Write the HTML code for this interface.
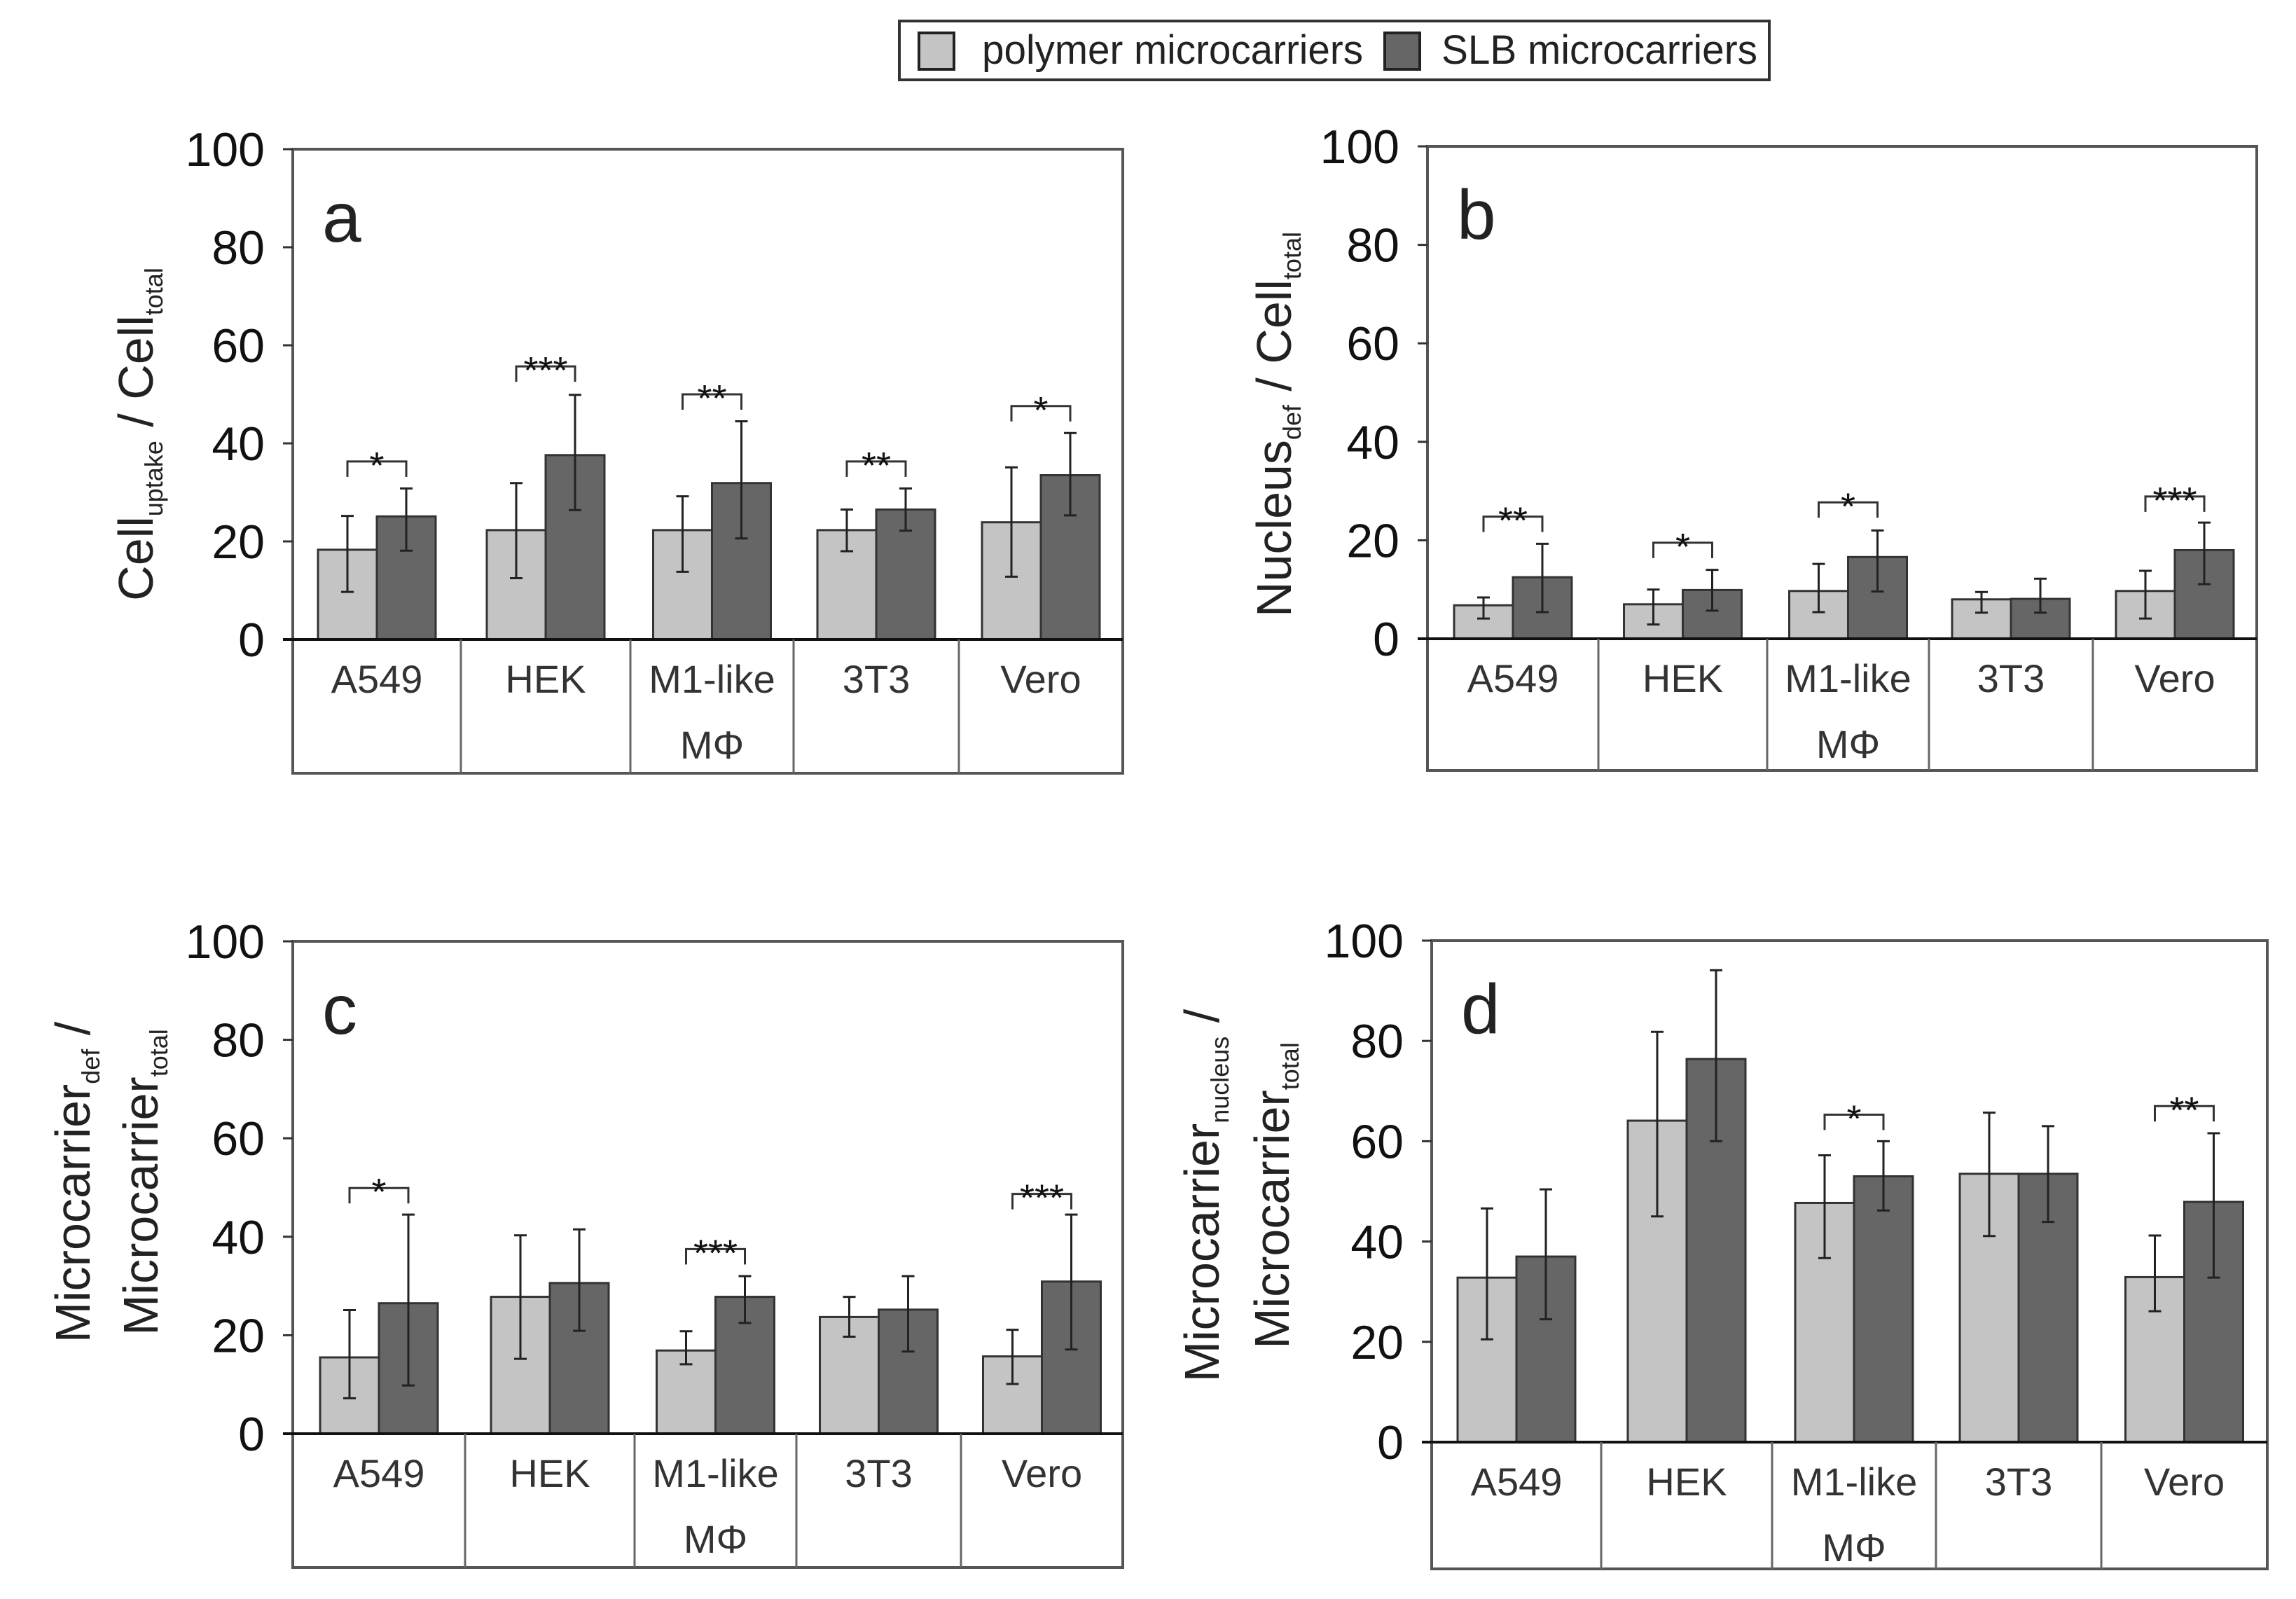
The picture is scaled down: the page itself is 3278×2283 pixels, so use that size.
<!DOCTYPE html>
<html><head><meta charset="utf-8">
<style>
html,body{margin:0;padding:0;background:#fff;}
svg{display:block;}
text{font-family:"Liberation Sans",Arial,sans-serif;}
</style></head>
<body>
<svg id="fig" width="3278" height="2283" viewBox="0 0 3278 2283" xmlns="http://www.w3.org/2000/svg">
  <g>
    <rect x="1284" y="30" width="1242" height="84" fill="#fff" stroke="#333" stroke-width="4"/>
    <rect x="1312" y="47" width="50" height="52" fill="#c4c4c4" stroke="#222" stroke-width="4"/>
    <text x="1402" y="91" font-size="58" textLength="544" lengthAdjust="spacingAndGlyphs" fill="#222">polymer microcarriers</text>
    <rect x="1977" y="47" width="50" height="52" fill="#666" stroke="#222" stroke-width="4"/>
    <text x="2058" y="91" font-size="58" textLength="451" lengthAdjust="spacingAndGlyphs" fill="#222">SLB microcarriers</text>
  </g>
</svg>
<script>
const categories = ["A549","HEK","M1-like","3T3","Vero"];
const yTicks = [0,20,40,60,80,100];

const aPoly = [18.3,22.3,22.3,22.3,23.9];
const aPolyLo = [9.7,12.5,13.8,18,12.8];
const aPolyHi = [25.2,31.9,29.2,26.5,35.1];
const aSlb = [25.1,37.6,31.9,26.5,33.5];
const aSlbLo = [18.1,26.4,20.6,22.2,25.3];
const aSlbHi = [30.8,49.9,44.5,30.8,42.1];
const aSig = ["*","***","**","**","*"];
const aSigY = [36.3,55.7,50,36.3,47.6];

const bPoly = [6.8,7,9.7,8,9.7];
const bPolyLo = [4.1,2.9,5.4,5.3,4.1];
const bPolyHi = [8.4,10,15.2,9.5,13.8];
const bSlb = [12.5,9.9,16.6,8.1,18];
const bSlbLo = [5.4,5.7,9.6,5.3,11.1];
const bSlbHi = [19.3,14,22,12.2,23.6];
const bSig = ["**","*","*","","***"];
const bSigY = [24.8,19.5,27.7,0,28.9];

const cPoly = [15.5,27.8,16.9,23.7,15.7];
const cPolyLo = [7.2,15.2,14.1,19.7,10.1];
const cPolyHi = [25.1,40.3,20.8,27.8,21.1];
const cSlb = [26.5,30.6,27.8,25.2,30.9];
const cSlbLo = [9.8,20.9,22.5,16.7,17.1];
const cSlbHi = [44.5,41.5,32,32,44.5];
const cSig = ["*","","***","","***"];
const cSigY = [49.9,0,37.5,0,48.7];

const dPoly = [32.8,64.1,47.7,53.5,32.9];
const dPolyLo = [20.5,45,36.7,41.1,26.1];
const dPolyHi = [46.6,81.8,57.2,65.7,41.2];
const dSlb = [37,76.4,53,53.5,47.9];
const dSlbLo = [24.5,60,46.2,43.9,32.8];
const dSlbHi = [50.4,94.1,60,63,61.6];
const dSig = ["","","*","","**"];
const dSigY = [0,0,65.3,0,67];

const NS = "http://www.w3.org/2000/svg";
const svg = document.getElementById("fig");
function mk(tag, attrs, parent){
  const e = document.createElementNS(NS, tag);
  for (const k in attrs) e.setAttribute(k, attrs[k]);
  (parent||svg).appendChild(e);
  return e;
}

const panels = [
  {id:"a", L:418, R:1603, T:213, Z:913, B:1104, div:[658,900,1133,1369],
   poly:aPoly, polyLo:aPolyLo, polyHi:aPolyHi, slb:aSlb, slbLo:aSlbLo, slbHi:aSlbHi, sig:aSig, sigY:aSigY,
   titles:[{parts:[["Cell",""],["uptake","sub"],[" / Cell",""],["total","sub"]], x:218}], tcy:620},
  {id:"b", L:2038, R:3222, T:209, Z:912, B:1100, div:[2282,2523,2754,2988],
   poly:bPoly, polyLo:bPolyLo, polyHi:bPolyHi, slb:bSlb, slbLo:bSlbLo, slbHi:bSlbHi, sig:bSig, sigY:bSigY,
   titles:[{parts:[["Nucleus",""],["def","sub"],[" / Cell",""],["total","sub"]], x:1843}], tcy:606},
  {id:"c", L:418, R:1603, T:1344, Z:2047, B:2238, div:[664,906,1137,1372],
   poly:cPoly, polyLo:cPolyLo, polyHi:cPolyHi, slb:cSlb, slbLo:cSlbLo, slbHi:cSlbHi, sig:cSig, sigY:cSigY,
   titles:[{parts:[["Microcarrier",""],["def","sub"],[" /",""]], x:128},{parts:[["Microcarrier",""],["total","sub"]], x:225}], tcy:1688},
  {id:"d", L:2044, R:3237, T:1343, Z:2059, B:2240, div:[2286,2530,2764,3000],
   poly:dPoly, polyLo:dPolyLo, polyHi:dPolyHi, slb:dSlb, slbLo:dSlbLo, slbHi:dSlbHi, sig:dSig, sigY:dSigY,
   titles:[{parts:[["Microcarrier",""],["nucleus","sub"],[" /",""]], x:1740}, {parts:[["Microcarrier",""],["total","sub"]], x:1840}], tcy:1707}
];

panels.forEach(p => {
  const g = mk("g", {});
  
  
  const y = v => p.Z - (p.Z - p.T) * v / 100;
  const cellEdges = [p.L].concat(p.div, [p.R]);
  const bw = 84;

  const fr = mk("rect", {x:p.L, y:p.T, width:p.R-p.L, height:p.B-p.T, fill:"none", stroke:"#555", "stroke-width":4}, g);
  
  

  yTicks.forEach(t => {
    const tl = mk("line", {x1:p.L-14, x2:p.L, y1:y(t), y2:y(t), stroke:"#333", "stroke-width":3}, g);
    
    
    const tx = mk("text", {x:p.L-40, y:y(t)+24, "font-size":68, "text-anchor":"end", fill:"#111"}, g);
    tx.textContent = t;
    
    
  });

  const pl = mk("text", {x:p.L+42, y:p.T+132, "font-size":100, fill:"#222"}, g);
  pl.textContent = p.id;
  
  

  categories.forEach((c, i) => {
    const cx = (cellEdges[i] + cellEdges[i+1]) / 2;
    const series = [
      {v:p.poly[i], lo:p.polyLo[i], hi:p.polyHi[i], x:cx-bw, fill:"#c4c4c4", n:"polymer"},
      {v:p.slb[i], lo:p.slbLo[i], hi:p.slbHi[i], x:cx, fill:"#666", n:"slb"}
    ];
    series.forEach(s => {
      const r = mk("rect", {x:s.x, y:y(s.v), width:bw, height:p.Z-y(s.v), fill:s.fill, stroke:"#333", "stroke-width":3}, g);
      
      
      const ex = s.x + bw/2;
      const eg = mk("g", {stroke:"#222", "stroke-width":3}, g);
      
      
      mk("line", {x1:ex, x2:ex, y1:y(s.lo), y2:y(s.hi)}, eg);
      mk("line", {x1:ex-9, x2:ex+9, y1:y(s.lo), y2:y(s.lo)}, eg);
      mk("line", {x1:ex-9, x2:ex+9, y1:y(s.hi), y2:y(s.hi)}, eg);
    });
    if (p.sig[i]) {
      const by = y(p.sigY[i]);
      const x1 = cx - bw/2, x2 = cx + bw/2;
      const br = mk("path", {d:`M${x1},${by+22} L${x1},${by} L${x2},${by} L${x2},${by+22}`, fill:"none", stroke:"#333", "stroke-width":3}, g);
      
      
      const st = mk("text", {x:cx, y:by+24, "font-size":54, "text-anchor":"middle", fill:"#111"}, g);
      st.textContent = p.sig[i];
      
      
    }
    const lb = mk("text", {x:cx, y:p.Z+76, "font-size":56, "text-anchor":"middle", fill:"#333"}, g);
    lb.textContent = c;
    
    
    if (c === "M1-like") {
      const lb2 = mk("text", {x:cx, y:p.Z+170, "font-size":56, "text-anchor":"middle", fill:"#333"}, g);
      lb2.textContent = "MΦ";
      
      
    }
  });

  const zl = mk("line", {x1:p.L-14, x2:p.R, y1:p.Z, y2:p.Z, stroke:"#111", "stroke-width":4}, g);
  
  
  p.div.forEach((dx, k) => {
    const dl = mk("line", {x1:dx, x2:dx, y1:p.Z, y2:p.B, stroke:"#666", "stroke-width":3}, g);
    
    
  });

  p.titles.forEach((t, k) => {
    const tt = mk("text", {x:t.x, y:p.tcy, "font-size":70, "text-anchor":"middle", fill:"#222", transform:`rotate(-90 ${t.x} ${p.tcy})`}, g);
    
    
    t.parts.forEach(pt => {
      const ts = document.createElementNS(NS, "tspan");
      ts.textContent = pt[0];
      if (pt[1] === "sub") { ts.setAttribute("font-size", "36"); ts.setAttribute("dy", "14"); }
      else if (tt.childNodes.length) { ts.setAttribute("dy", "-14"); }
      tt.appendChild(ts);
    });
  });
});
</script>
</body></html>
